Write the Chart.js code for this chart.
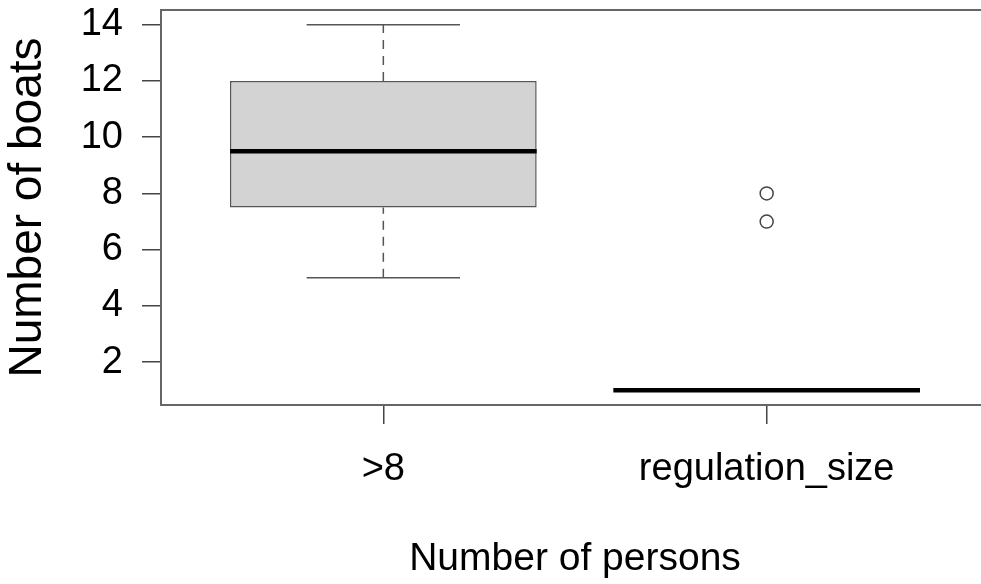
<!DOCTYPE html>
<html>
<head>
<meta charset="utf-8">
<script src="https://cdn.jsdelivr.net/npm/chart.js@4"></script>
<style>
  body { margin: 0; overflow: hidden; background: #fff; }
</style>
</head>
<body>
<canvas id="boxChart" width="1000" height="584"></canvas>
<script>
// Kategorien und Kennwerte der Boxplots
const groups = ['>8', 'regulation_size'];
const groupPos = [1, 2];
const mins = [5, 1];
const q1s = [7.5, 1];
const medians = [9.5, 1];
const q3s = [12, 1];
const maxs = [14, 1];
const outliers = [[], [7, 8]];
const yTicks = [2, 4, 6, 8, 10, 12, 14];

const boxHalf = 0.4;    // halbe Boxbreite in x-Einheiten
const stapleHalf = 0.2; // halbe Breite der Whisker-Enden

const fontFam = '"Liberation Sans", Arial, sans-serif';

// Liniensegmente aus den Kennwerten bauen, getrennt durch Lücken
function segments(list) {
    const out = [];
    list.forEach(s => {
        out.push({ x: s[0], y: s[1] }, { x: s[2], y: s[3] }, { x: s[2], y: null });
    });
    return out;
}

const whiskerSegs = segments(groupPos.flatMap((x, i) => [
    [x, q3s[i], x, maxs[i]],
    [x, mins[i], x, q1s[i]]
]));
const stapleSegs = segments(groupPos.flatMap((x, i) => [
    [x - stapleHalf, maxs[i], x + stapleHalf, maxs[i]],
    [x - stapleHalf, mins[i], x + stapleHalf, mins[i]]
]));
const medianSegs = segments(groupPos.map((x, i) =>
    [x - boxHalf, medians[i], x + boxHalf, medians[i]]
));
const outlierPts = groupPos.flatMap((x, i) => outliers[i].map(v => ({ x: x, y: v })));

// Rahmen um den Plotbereich wie bei R box()
const framePlugin = {
    id: 'frame',
    afterDatasetsDraw(chart) {
        const a = chart.chartArea;
        const ctx = chart.ctx;
        ctx.save();
        ctx.strokeStyle = '#666';
        ctx.lineWidth = 2;
        ctx.strokeRect(a.left, a.top, a.right - a.left, a.bottom - a.top);
        ctx.restore();
    }
};

new Chart(document.getElementById('boxChart'), {
    type: 'bar',
    data: {
        datasets: [
            {
                type: 'line',
                data: medianSegs,
                borderColor: '#000',
                borderWidth: 4.5,
                borderCapStyle: 'butt',
                pointRadius: 0,
                spanGaps: false,
                order: 0
            },
            {
                type: 'scatter',
                data: outlierPts,
                pointStyle: 'circle',
                pointRadius: 6.5,
                pointBorderWidth: 1.5,
                pointBorderColor: '#444',
                pointBackgroundColor: 'rgba(255,255,255,0)',
                order: 0
            },
            {
                type: 'line',
                data: stapleSegs,
                borderColor: '#555',
                borderWidth: 1.5,
                pointRadius: 0,
                spanGaps: false,
                order: 1
            },
            {
                type: 'line',
                data: whiskerSegs,
                borderColor: '#555',
                borderWidth: 1.5,
                borderDash: [9, 7],
                pointRadius: 0,
                spanGaps: false,
                order: 1
            },
            {
                type: 'bar',
                data: groupPos.map((x, i) => ({ x: x, y: [q1s[i], q3s[i]] })),
                backgroundColor: '#d3d3d3',
                borderColor: '#555',
                borderWidth: 1.5,
                borderSkipped: false,
                barPercentage: 0.8,
                categoryPercentage: 1.0,
                order: 2
            }
        ]
    },
    options: {
        responsive: false,
        animation: false,
        layout: { padding: { top: 10, right: 11, left: 0, bottom: 0 } },
        plugins: {
            legend: { display: false },
            tooltip: { enabled: false }
        },
        scales: {
            x: {
                type: 'linear',
                offset: false,
                min: 0.42,
                max: 2.58,
                afterBuildTicks: scale => { scale.ticks = groupPos.map(v => ({ value: v })); },
                afterFit: scale => {
                    scale.height = 179;
                    scale.paddingLeft = 0;
                    scale.paddingRight = 0;
                },
                grid: { offset: false, drawOnChartArea: false, tickLength: 19, color: '#444', lineWidth: 1.5 },
                border: { display: false },
                ticks: {
                    color: '#000',
                    padding: 23,
                    maxRotation: 0,
                    font: { family: fontFam, size: 38 },
                    callback: v => groups[groupPos.indexOf(v)]
                },
                title: {
                    display: true,
                    text: 'Number of persons',
                    color: '#000',
                    font: { family: fontFam, size: 39 },
                    padding: { top: 0, bottom: 1 }
                }
            },
            y: {
                min: 0.48,
                max: 14.52,
                afterBuildTicks: scale => { scale.ticks = yTicks.map(v => ({ value: v })); },
                afterFit: scale => {
                    scale.width = 161;
                    scale.paddingTop = 0;
                    scale.paddingBottom = 0;
                },
                grid: { drawOnChartArea: false, tickLength: 19, color: '#444', lineWidth: 1.5 },
                border: { display: false },
                ticks: {
                    color: '#000',
                    padding: 19,
                    font: { family: fontFam, size: 38 }
                },
                title: {
                    display: true,
                    text: 'Number of boats',
                    color: '#000',
                    font: { family: fontFam, size: 46 },
                    padding: { top: 1, bottom: 0 }
                }
            }
        }
    },
    plugins: [framePlugin]
});
</script>
</body>
</html>
